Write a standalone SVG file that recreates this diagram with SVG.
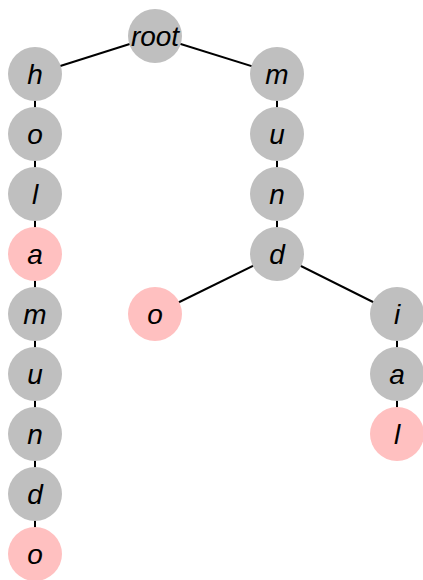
<svg xmlns="http://www.w3.org/2000/svg" width="423" height="580" viewBox="0 0 423 580">
  <style>
    .edge { stroke: #000; stroke-width: 2; fill: none; }
    .node circle { fill: #bfbfbf; }
    .node.end circle { fill: #ffc0c0; }
    .node text { font-family: "Liberation Sans", Arial, sans-serif; font-style: italic; font-size: 28px; fill: #000; text-anchor: middle; }
  </style>
  <rect width="423" height="580" fill="#fff"/>
  <g id="connectors">
    <line class="edge" x1="155" y1="36" x2="35" y2="74"/>
    <line class="edge" x1="155" y1="36" x2="277" y2="74"/>
    <line class="edge" x1="35" y1="74" x2="35" y2="554"/>
    <line class="edge" x1="277" y1="74" x2="277" y2="254"/>
    <line class="edge" x1="277" y1="254" x2="155" y2="314"/>
    <line class="edge" x1="277" y1="254" x2="397" y2="314"/>
    <line class="edge" x1="397" y1="314" x2="397" y2="434"/>
  </g>
  <g id="n-root" class="node"><circle cx="155" cy="36" r="27"/><text x="155" y="46">root</text></g>
  <g id="n-h" class="node"><circle cx="35" cy="74" r="27"/><text x="35" y="84">h</text></g>
  <g id="n-ho" class="node"><circle cx="35" cy="134" r="27"/><text x="35" y="144">o</text></g>
  <g id="n-hol" class="node"><circle cx="35" cy="194" r="27"/><text x="35" y="204">l</text></g>
  <g id="n-hola" class="node end"><circle cx="35" cy="254" r="27"/><text x="35" y="264">a</text></g>
  <g id="n-holam" class="node"><circle cx="35" cy="314" r="27"/><text x="35" y="324">m</text></g>
  <g id="n-holamu" class="node"><circle cx="35" cy="374" r="27"/><text x="35" y="384">u</text></g>
  <g id="n-holamun" class="node"><circle cx="35" cy="434" r="27"/><text x="35" y="444">n</text></g>
  <g id="n-holamund" class="node"><circle cx="35" cy="494" r="27"/><text x="35" y="504">d</text></g>
  <g id="n-holamundo" class="node end"><circle cx="35" cy="554" r="27"/><text x="35" y="564">o</text></g>
  <g id="n-m" class="node"><circle cx="277" cy="74" r="27"/><text x="277" y="84">m</text></g>
  <g id="n-mu" class="node"><circle cx="277" cy="134" r="27"/><text x="277" y="144">u</text></g>
  <g id="n-mun" class="node"><circle cx="277" cy="194" r="27"/><text x="277" y="204">n</text></g>
  <g id="n-mund" class="node"><circle cx="277" cy="254" r="27"/><text x="277" y="264">d</text></g>
  <g id="n-mundo" class="node end"><circle cx="155" cy="314" r="27"/><text x="155" y="324">o</text></g>
  <g id="n-mundi" class="node"><circle cx="397" cy="314" r="27"/><text x="397" y="324">i</text></g>
  <g id="n-mundia" class="node"><circle cx="397" cy="374" r="27"/><text x="397" y="384">a</text></g>
  <g id="n-mundial" class="node end"><circle cx="397" cy="434" r="27"/><text x="397" y="444">l</text></g>
</svg>
